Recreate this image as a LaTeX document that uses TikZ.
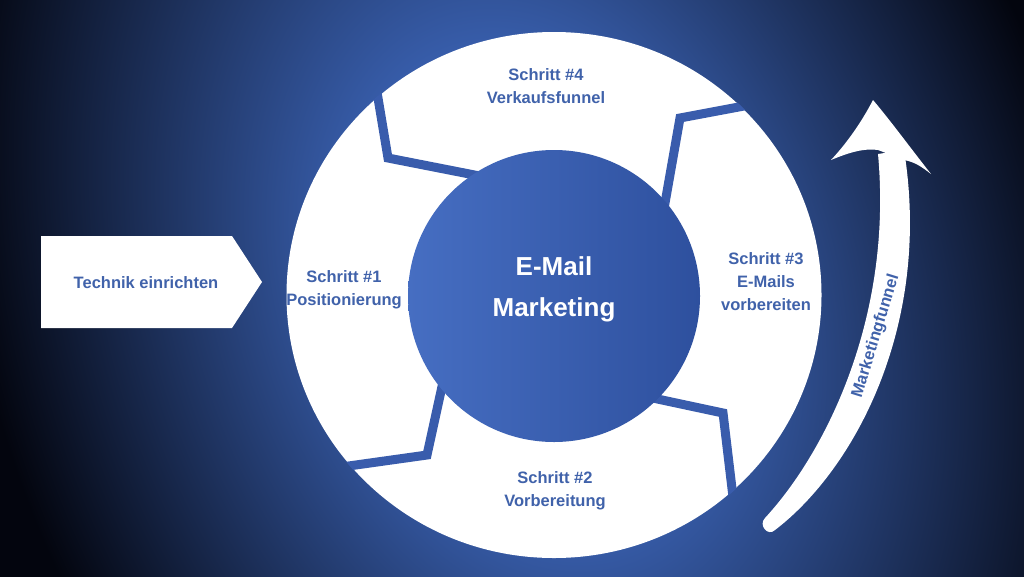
\documentclass[tikz,border=0pt]{standalone}
\usepackage{fontspec}
\setmainfont{Liberation Sans}
\usetikzlibrary{shapes.geometric}

\definecolor{bgblue}{RGB}{62,104,190}
\definecolor{bgdark}{RGB}{3,5,14}
\definecolor{ringblue}{RGB}{57,92,172}
\definecolor{txtblue}{RGB}{64,98,170}
\definecolor{hubleft}{RGB}{70,110,194}
\definecolor{hubright}{RGB}{46,80,158}

\pgfdeclareradialshading{bgglow}{\pgfpoint{0bp}{0bp}}{color(0bp)=(bgblue); color(6bp)=(bgblue); color(25bp)=(bgdark); color(50bp)=(bgdark)}

\tikzset{
  steptext/.style={text=txtblue, font=\bfseries\fontsize{16.5}{23}\selectfont, align=center, inner sep=0pt},
  gapline/.style={draw=ringblue, line width=9pt, line join=miter},
  ring/.style={ellipse, fill=white, inner sep=0pt, minimum width=535pt, minimum height=526pt},
  hub/.style={circle, left color=hubleft, right color=hubright, inner sep=0pt, minimum size=292pt},
  hubtext/.style={text=white, font=\bfseries\fontsize{26}{41}\selectfont, align=center, inner sep=0pt},
}

\begin{document}
\begin{tikzpicture}[x=1pt,y=-1pt]
  \useasboundingbox (0,0) rectangle (1024,576);

  % background
  \fill[bgdark] (-3,-3) rectangle (1027,579);
  \begin{scope}
    \clip (-3,-3) rectangle (1027,579);
    \begin{scope}[transform canvas={shift={(535,290)}, rotate=19, yscale=1.4}]
      \shade[shading=bgglow] (0,0) circle [radius=550];
    \end{scope}
  \end{scope}

  % ring with the four gaps
  \node[ring] (ring) at (554,295) {};
  \begin{scope}
    \clip (554,295) ellipse [x radius=268, y radius=264];
    \draw[gapline] (500,180) -- (388,158) -- (366,26);
    \draw[gapline] (662,220) -- (680,118) -- (856,85);
    \draw[gapline] (620,391) -- (723,413) -- (743,581);
    \draw[gapline] (450,350) -- (427,455) -- (256,479);
  \end{scope}
  \node[hub] (hub) at (554,296) {};
  \node[hubtext] (title) at (554,289) {E-Mail\\Marketing};

  % steps
  \node[steptext] (s1) at (344,290) {Schritt \#1\\Positionierung};
  \node[steptext] (s2) at (555,491) {Schritt \#2\\Vorbereitung};
  \node[steptext] (s3) at (766,282) {Schritt \#3\\E-Mails\\vorbereiten};
  \node[steptext] (s4) at (546,86) {Schritt \#4\\Verkaufsfunnel};

  % left box
  \fill[white] (41,236) -- (232,236) -- (262,282) -- (232,328) -- (41,328) -- cycle;
  \node[steptext] (tech) at (146,283) {Technik einrichten};

  % curved arrow
  \coordinate (foot) at (770,524);
  \coordinate (neck) at (891,152);
  \fill[white] (775,530) .. controls (856,468) and (932,323) .. (904,150)
    -- (878,154) .. controls (893,317) and (826,452) .. (765,518)
    .. controls (758,525) and (768,537) .. (775,530) -- cycle;
  \fill[white] (873,100) .. controls (860,125) and (845,145) .. (831,160)
    .. controls (850,152) and (865,148) .. (878,150) -- (904,160)
    .. controls (915,162) and (922,167) .. (931,174)
    .. controls (912,150) and (890,120) .. (873,100) -- cycle;
  \node[steptext, rotate=73] (funnel) at (876,336) {Marketingfunnel};
\end{tikzpicture}
\end{document}
